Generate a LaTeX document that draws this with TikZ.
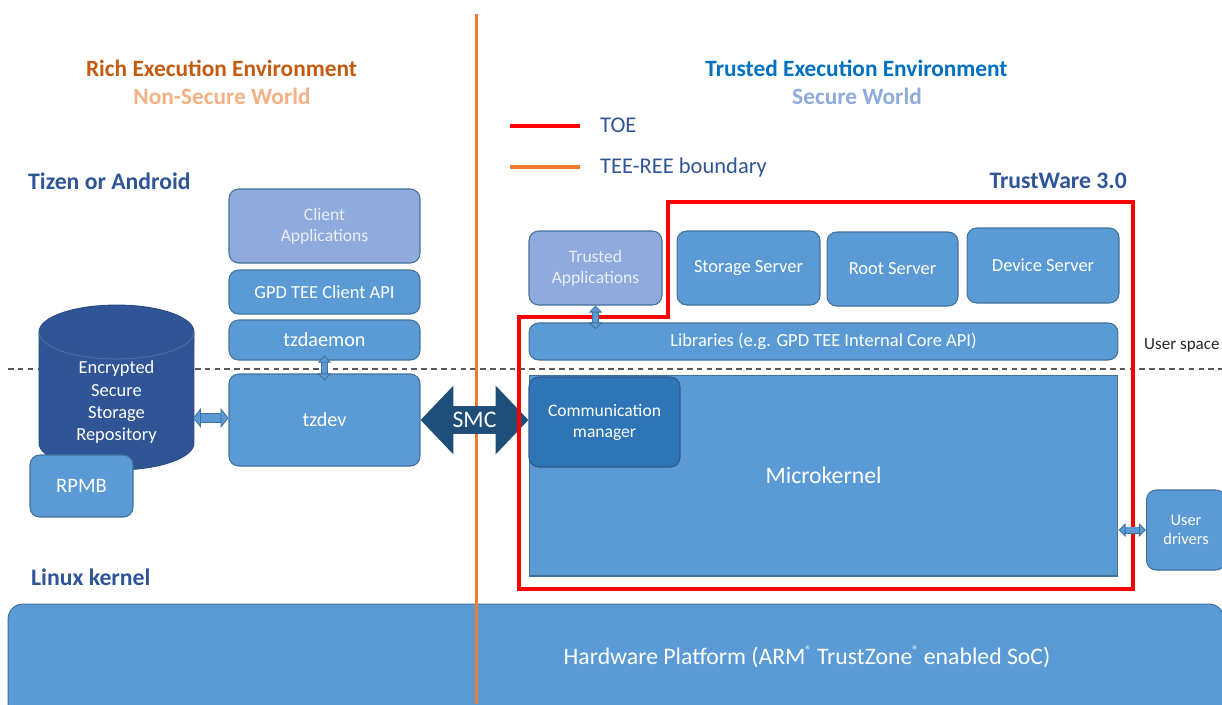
\documentclass[tikz,border=0pt]{standalone}
\usepackage{fontspec}
\setmainfont{Carlito}
\usetikzlibrary{arrows.meta}
\definecolor{boxblue}{HTML}{5B9BD5}
\definecolor{boxline}{HTML}{41719C}
\definecolor{appblue}{HTML}{8FAADC}
\definecolor{apptext}{HTML}{E9EEF7}
\definecolor{cylblue}{HTML}{2F5597}
\definecolor{cylline}{HTML}{4A6BA8}
\definecolor{cmblue}{HTML}{2E75B6}
\definecolor{cmline}{HTML}{2F5A8C}
\definecolor{smcblue}{HTML}{1F4E79}
\definecolor{reeorange}{HTML}{ED7D31}
\definecolor{reetitle}{HTML}{C55A11}
\definecolor{reesub}{HTML}{F4B183}
\definecolor{teetitle}{HTML}{0070C0}
\definecolor{teesub}{HTML}{8FAADC}
\definecolor{osblue}{HTML}{2F5597}
\definecolor{dashgray}{HTML}{595959}
\newcommand{\regmark}{\raisebox{0.45em}{\fontsize{7}{8}\selectfont ®}}
\tikzset{
  box/.style={draw=boxline, fill=boxblue, line width=0.6pt, rounded corners=5.5pt,
    text=white, align=center, inner sep=0pt, font=\fontsize{10.5}{12.6}\selectfont},
  appbox/.style={box, fill=appblue, text=apptext, font=\fontsize{10}{12}\selectfont},
  title/.style={font=\bfseries\fontsize{13.3}{16}\selectfont},
  oslabel/.style={font=\bfseries\fontsize{13.5}{16}\selectfont, text=osblue},
  legendtext/.style={anchor=west, text=osblue, font=\fontsize{12.8}{15}\selectfont},
  link/.style={draw=boxblue, line width=4.2pt,
    {Triangle[length=4.5pt,width=11.3pt,color=boxline,fill=boxblue,line width=0.5pt]}-{Triangle[length=4.5pt,width=11.3pt,color=boxline,fill=boxblue,line width=0.5pt]},
    preaction={draw=boxline, line width=5.3pt, arrows=-, shorten >=4pt, shorten <=4pt}},
  thinlink/.style={draw=boxblue, line width=3pt,
    {Triangle[length=4pt,width=7.6pt,color=boxline,fill=boxblue,line width=0.5pt]}-{Triangle[length=4pt,width=7.6pt,color=boxline,fill=boxblue,line width=0.5pt]},
    preaction={draw=boxline, line width=4pt, arrows=-, shorten >=3.5pt, shorten <=3.5pt}},
  smc/.style={draw=smcblue, line width=15.9pt,
    {Triangle[length=18.7pt,width=38pt]}-{Triangle[length=18.7pt,width=38pt]}},
  toe/.style={draw=red, line width=2.3pt},
  boundary/.style={draw=reeorange, line width=1.7pt},
}

\begin{document}
\begin{tikzpicture}[x=0.02cm, y=-0.02cm]
\useasboundingbox (0,0) rectangle (1222,704);
% user space / kernel split
\draw [dashgray, line width=0.85pt, dash pattern=on 3.2pt off 2.4pt] (8,369) -- (1222,369);
% titles
\node [title, text=reetitle] (reetitle) at (221.5,68) {Rich Execution Environment};
\node [title, text=reesub] (reesub) at (222,96) {Non-Secure World};
\node [title, text=teetitle] (teetitle) at (856.5,68) {Trusted Execution Environment};
\node [title, text=teesub] (teesub) at (857,96) {Secure World};
\node [oslabel, anchor=west] (tizen) at (22,181) {Tizen or Android};
\node [oslabel, anchor=west] (linux) at (25,577) {Linux kernel};
\node [oslabel, anchor=east] (trustware) at (1133,181) {TrustWare 3.0};
\node [anchor=west, text=black!85, font=\fontsize{9.7}{11}\selectfont] (userspace) at (1138,345) {User space};
% legend
\draw [toe] (510,126) -- (580,126);
\draw [boundary, line width=2.3pt] (510,167) -- (580,167);
\node [legendtext] (toelabel) at (594,125) {TOE};
\node [legendtext] (boundarylabel) at (594,167) {TEE-REE boundary};
% normal world
\node [appbox, minimum width=3.82cm, minimum height=1.48cm] (clientapp) at (324.5,226) {Client\\Applications};
\node [box, minimum width=3.82cm, minimum height=0.88cm] (clientapi) at (324.5,292) {GPD TEE Client API};
\node [box, minimum width=3.82cm, minimum height=0.80cm, font=\fontsize{11.5}{13}\selectfont] (tzdaemon) at (324.5,340) {tzdaemon};
\node [box, minimum width=3.82cm, minimum height=1.84cm, font=\fontsize{11.5}{13}\selectfont] (tzdev) at (324.5,420) {tzdev};
% storage cylinder
\filldraw [fill=cylblue, draw=cylblue!85!black, line width=0.5pt] (39,332) -- (39,443)
  arc [start angle=180, end angle=360, x radius=1.55cm, y radius=0.54cm] -- (194,332)
  arc [start angle=0, end angle=180, x radius=1.55cm, y radius=0.54cm] -- cycle;
\draw [cylline, line width=0.6pt] (39,332) arc [start angle=180, end angle=360, x radius=1.55cm, y radius=0.54cm];
\node [text=white, align=center, font=\fontsize{10.5}{12.7}\selectfont] (ess) at (116.5,402.5) {Encrypted\\Secure\\Storage\\Repository};
\coordinate (essR) at (193,418);
\node [box, minimum width=2.06cm, minimum height=1.24cm, font=\fontsize{11.7}{13}\selectfont] (rpmb) at (81.5,486) {RPMB};
% secure world
\node [appbox, minimum width=2.66cm, minimum height=1.48cm] (trustedapp) at (595.5,268) {Trusted\\Applications};
\node [box, minimum width=2.86cm, minimum height=1.48cm] (storage) at (748.5,268) {Storage Server};
\node [box, minimum width=2.62cm, minimum height=1.48cm] (root) at (892.5,269) {Root Server};
\node [box, minimum width=3.04cm, minimum height=1.50cm] (device) at (1043,265.5) {Device Server};
\node [box, minimum width=11.78cm, minimum height=0.74cm] (libs) at (823.5,341.5) {Libraries (e.g. GPD TEE Internal Core API)};
\node [box, rounded corners=0pt, minimum width=11.78cm, minimum height=4.02cm, font=\fontsize{13.5}{16}\selectfont] (micro) at (823.5,475.5) {Microkernel};
\node [box, fill=cmblue, draw=cmline, minimum width=3.02cm, minimum height=1.80cm, font=\fontsize{10}{12}\selectfont] (commmgr) at (604.5,422) {Communication\\manager};
\node [box, minimum width=1.58cm, minimum height=1.60cm, font=\fontsize{9.3}{10.8}\selectfont] (userdrv) at (1186,530) {User\\drivers};
% hardware
\node [box, rounded corners=8.5pt, minimum width=24.32cm, minimum height=2.52cm] (hw) at (616,667) {};
\node [text=white, font=\fontsize{13.5}{16}\selectfont] (hwlabel) at (807,657) {Hardware Platform (ARM\regmark{} TrustZone\regmark{} enabled SoC)};
% boundary
\draw [boundary] (476,14) -- (476,704);
% secure monitor call
\draw [smc] (tzdev.east) -- node [text=white, font=\fontsize{13.5}{16}\selectfont] (smclabel) {SMC} (tzdev.east -| commmgr.west);
% TOE
\draw [toe] (668,202) -- (1133,202) -- (1133,589) -- (519,589) -- (519,317) -- (668,317) -- cycle;
% links
\draw [link] (essR) -- (essR -| tzdev.west);
\draw [thinlink] ([yshift=2.8pt]tzdaemon.south) -- ([yshift=-4pt]tzdev.north);
\draw [thinlink] (trustedapp.south) -- ([yshift=-4pt]trustedapp.south |- libs.north);
\draw [thinlink] (userdrv.west -| micro.east) -- (userdrv.west);
\end{tikzpicture}
\end{document}
